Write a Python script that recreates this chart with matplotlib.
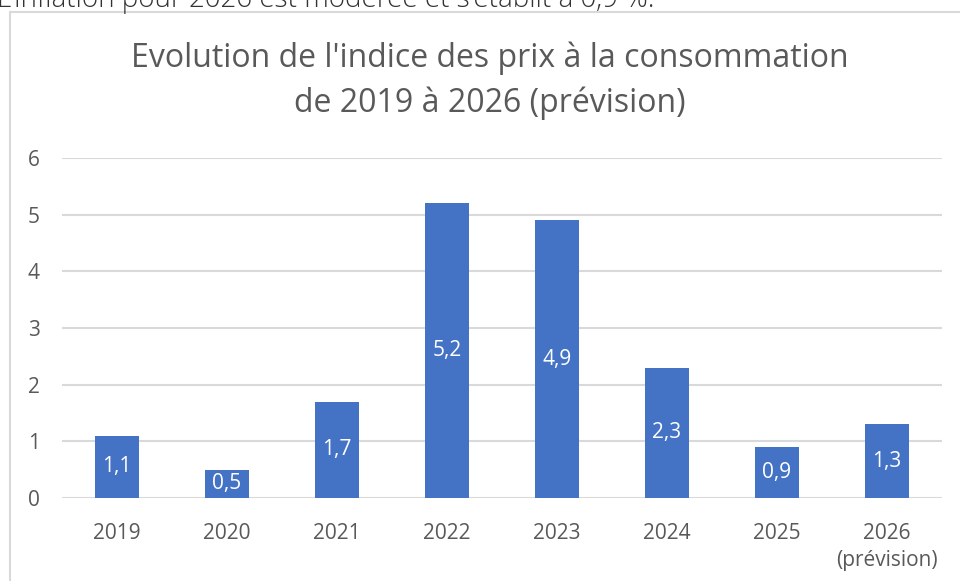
import matplotlib.pyplot as plt
from matplotlib.patches import Rectangle

years = ["2019", "2020", "2021", "2022", "2023", "2024", "2025", "2026\n(prévision)"]
ipc = [1.1, 0.5, 1.7, 5.2, 4.9, 2.3, 0.9, 1.3]
labels = ["1,1", "0,5", "1,7", "5,2", "4,9", "2,3", "0,9", "1,3"]

plt.rcParams["font.family"] = ["Open Sans", "DejaVu Sans"]

fig = plt.figure(figsize=(9.6, 5.81), dpi=100)
ax = fig.add_axes([0.0646, 0.1429, 0.9167, 0.585])

# texte coupé au-dessus du graphique
fig.text(-0.003, 1 - 7 / 581, "L'inflation pour 2026 est modérée et s'établit à 0,9 %.",
         fontsize=20, color="#333333", va="baseline", ha="left", fontweight="light")

# cadre du graphique
fig.patches.append(Rectangle((10 / 960, -0.05), 1.0, 1 - 12 / 581 + 0.05,
                             transform=fig.transFigure, fill=False,
                             edgecolor="#d9d9d9", linewidth=1.5))

x = range(len(years))
bars = ax.bar(x, ipc, width=0.4, color="#4472C4", zorder=3)
for b, lab in zip(bars, labels):
    ax.text(b.get_x() + b.get_width() / 2, b.get_height() / 2, lab,
            ha="center", va="center", color="white", fontsize=15, zorder=4)

ax.set_xlim(-0.5, len(years) - 0.5)
ax.set_ylim(0, 6)
ax.set_yticks(range(0, 7))
ax.set_xticks(list(x))
ax.set_xticklabels(years, linespacing=1.4)
ax.grid(axis="y", color="#d9d9d9", linewidth=1.5, zorder=0)
for s in ax.spines.values():
    s.set_visible(False)
ax.tick_params(length=0, colors="#595959", labelsize=15)
ax.tick_params(axis="y", pad=16)
ax.tick_params(axis="x", pad=18)

fig.text(490 / 960, 1 - 58 / 581, "Evolution de l'indice des prix à la consommation",
         ha="center", va="center", fontsize=23, color="#595959")
fig.text(490 / 960, 1 - 103 / 581, "de 2019 à 2026 (prévision)",
         ha="center", va="center", fontsize=23, color="#595959")

fig.savefig("out.png", dpi=100)
